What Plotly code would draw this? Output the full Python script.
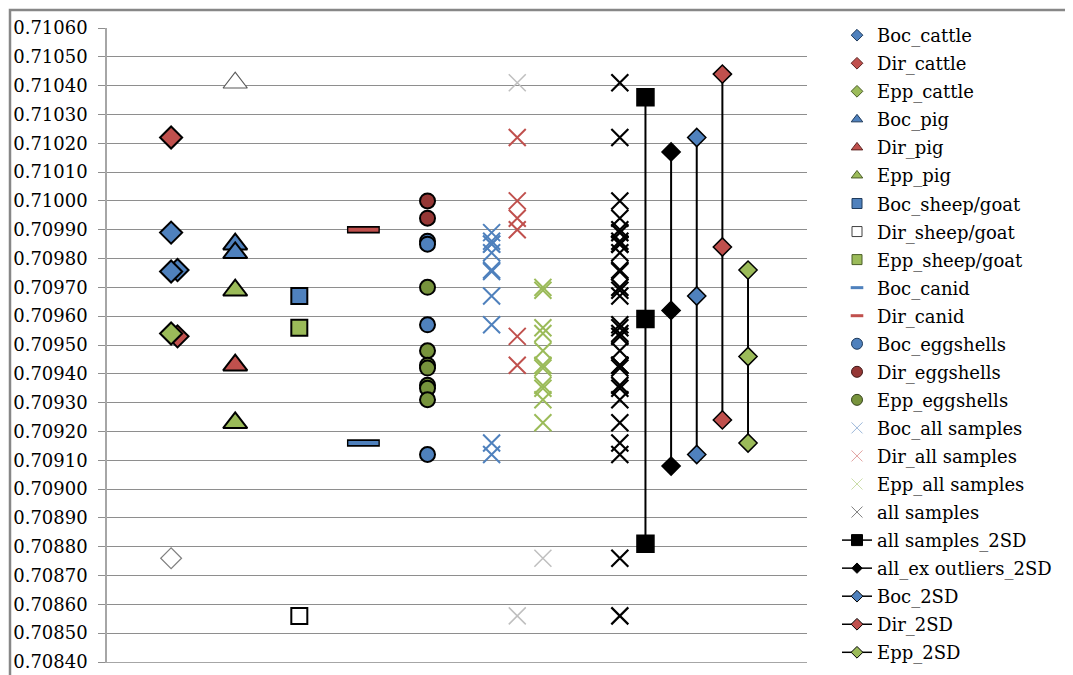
import plotly.graph_objects as go

# ---------------- data ----------------
# category positions on the (hidden) x axis
cattle_x = 1
pig_x = 2
sheep_x = 3
canid_x = 4
egg_x = 5
boc_all_x = 6
dir_all_x = 6.4
epp_all_x = 6.8
all_x = 8
all_2sd_x = 8.4
exout_2sd_x = 8.8
boc_2sd_x = 9.2
dir_2sd_x = 9.6
epp_2sd_x = 10

boc_cattle = [0.70989, 0.70976, 0.709755]
boc_cattle_pos = [1, 1.1, 1]
dir_cattle = [0.71022, 0.70953]
dir_cattle_pos = [1, 1.1]
epp_cattle = [0.70954]
epp_cattle_outlier = [0.70876]

boc_pig = [0.70985, 0.70982]
dir_pig = [0.70943]
dir_pig_outlier = [0.71041]
epp_pig = [0.70969, 0.70923]

boc_sheep = [0.70967]
dir_sheep = [0.70856]
epp_sheep = [0.70956]

boc_canid = [0.70916]
dir_canid = [0.70990]

boc_egg = [0.70986, 0.70985, 0.70957, 0.70912]
dir_egg = [0.71000, 0.70994]
epp_egg = [0.70970, 0.70948, 0.70943, 0.70942, 0.70936, 0.70935, 0.70931]

all_2sd = [0.71036, 0.70959, 0.70881]
exout_2sd = [0.71017, 0.70962, 0.70908]
boc_2sd = [0.71022, 0.70967, 0.70912]
dir_2sd = [0.71044, 0.70984, 0.70924]
epp_2sd = [0.70976, 0.70946, 0.70916]

y_ticks = [round(0.7084 + i * 0.0001, 5) for i in range(23)]

# derived groups
boc_all = boc_cattle + boc_pig + boc_sheep + boc_canid + boc_egg
dir_all = dir_cattle + dir_pig + dir_canid + dir_egg
dir_outliers = dir_pig_outlier + dir_sheep
epp_all = epp_cattle + epp_pig + epp_sheep + epp_egg
epp_outliers = epp_cattle_outlier
all_samples = boc_all + dir_all + dir_outliers + epp_all + epp_outliers

# ---------------- styles ----------------
BLUE = "#4F81BD"
RED = "#C0504D"
GREEN = "#9BBB59"
DRED = "#953735"
DGREEN = "#77933C"
GRAYX = "#BFBFBF"
FONT = "DejaVu Serif"

fig = go.Figure()

def pts(xs, ys, symbol, color, size, lw=2, lc="black", opacity=1):
    fig.add_trace(go.Scatter(
        x=xs, y=ys, mode="markers", showlegend=False, hoverinfo="y",
        marker=dict(symbol=symbol, color=color, size=size, opacity=opacity,
                    line=dict(color=lc, width=lw))))

def rep(v, n):
    return [v] * n

# legend-only entries (no data), in legend order
legend_items = [
    ("Boc_cattle", "diamond", BLUE, 9, 1, "#1F3B5C", False),
    ("Dir_cattle", "diamond", RED, 9, 1, "#5C2220", False),
    ("Epp_cattle", "diamond", GREEN, 9, 1, "#4B5E28", False),
    ("Boc_pig", "triangle-up", BLUE, 10, 1, "#1F3B5C", False),
    ("Dir_pig", "triangle-up", RED, 10, 1, "#5C2220", False),
    ("Epp_pig", "triangle-up", GREEN, 10, 1, "#4B5E28", False),
    ("Boc_sheep/goat", "square", BLUE, 10, 1, "#1F3B5C", False),
    ("Dir_sheep/goat", "square", "white", 10, 1, "#404040", False),
    ("Epp_sheep/goat", "square", GREEN, 10, 1, "#4B5E28", False),
    ("Boc_canid", "line-ew", BLUE, 9, 3, BLUE, False),
    ("Dir_canid", "line-ew", RED, 9, 3, RED, False),
    ("Boc_eggshells", "circle", BLUE, 11, 1, "#1F3B5C", False),
    ("Dir_eggshells", "circle", DRED, 11, 1, "#3F1716", False),
    ("Epp_eggshells", "circle", DGREEN, 11, 1, "#35421B", False),
    ("Boc_all samples", "x-thin", "#9DB8DA", 11, 1, "#9DB8DA", False),
    ("Dir_all samples", "x-thin", "#E2A3A1", 11, 1, "#E2A3A1", False),
    ("Epp_all samples", "x-thin", "#CBDDA9", 11, 1, "#CBDDA9", False),
    ("all samples", "x-thin", "#7F7F7F", 11, 1, "#7F7F7F", False),
    ("all samples_2SD", "square", "black", 11, 1, "black", True),
    ("all_ex outliers_2SD", "diamond", "black", 8, 1, "black", True),
    ("Boc_2SD", "diamond", BLUE, 9, 1, "black", True),
    ("Dir_2SD", "diamond", RED, 9, 1, "black", True),
    ("Epp_2SD", "diamond", GREEN, 9, 1, "black", True),
]
for i, (name, sym, col, sz, lw, lc, withline) in enumerate(legend_items):
    fig.add_trace(go.Scatter(
        x=[None], y=[None], name=name, legendgroup="g%d" % i,
        mode="lines+markers" if withline else "markers",
        line=dict(color="black", width=1.5),
        marker=dict(symbol=sym, color=col, size=sz, line=dict(color=lc, width=lw))))

# ---------- data marks ----------
# cattle
pts(boc_cattle_pos, boc_cattle, "diamond", BLUE, 17)
pts(dir_cattle_pos, dir_cattle, "diamond", RED, 17)
pts(rep(cattle_x, len(epp_cattle)), epp_cattle, "diamond", GREEN, 17)
pts(rep(cattle_x, len(epp_cattle_outlier)), epp_cattle_outlier, "diamond", "white", 16, 1.2, "#7F7F7F")
# pig
pts(rep(pig_x, len(boc_pig)), boc_pig, "triangle-up", BLUE, 21)
pts(rep(pig_x, len(dir_pig)), dir_pig, "triangle-up", RED, 21)
pts(rep(pig_x, len(epp_pig)), epp_pig, "triangle-up", GREEN, 21)
pts(rep(pig_x, len(dir_pig_outlier)), dir_pig_outlier, "triangle-up", "white", 21, 1.2, "#595959")
# sheep/goat
pts(rep(sheep_x, len(boc_sheep)), boc_sheep, "square", BLUE, 16)
pts(rep(sheep_x, len(dir_sheep)), dir_sheep, "square", "white", 16)
pts(rep(sheep_x, len(epp_sheep)), epp_sheep, "square", GREEN, 16)
# canid (outlined bars)
for vals, col in ((boc_canid, BLUE), (dir_canid, RED)):
    pts(rep(canid_x, len(vals)), vals, "line-ew", "black", 23.5, 7.5, "black")
    pts(rep(canid_x, len(vals)), vals, "line-ew", col, 21.5, 4, col)
# eggshells
pts(rep(egg_x, len(boc_egg)), boc_egg, "circle", BLUE, 15)
pts(rep(egg_x, len(dir_egg)), dir_egg, "circle", DRED, 15)
pts(rep(egg_x, len(epp_egg)), epp_egg, "circle", DGREEN, 15)
# all samples crosses
pts(rep(boc_all_x, len(boc_all)), boc_all, "x-thin", BLUE, 17, 2, BLUE)
pts(rep(dir_all_x, len(dir_all)), dir_all, "x-thin", RED, 17, 2, RED)
pts(rep(dir_all_x, len(dir_outliers)), dir_outliers, "x-thin", GRAYX, 17, 1.5, GRAYX)
pts(rep(epp_all_x, len(epp_all)), epp_all, "x-thin", GREEN, 17, 2, GREEN)
pts(rep(epp_all_x, len(epp_outliers)), epp_outliers, "x-thin", GRAYX, 17, 1.5, GRAYX)
pts(rep(all_x, len(all_samples)), all_samples, "x-thin", "black", 17, 2.2, "black")

# 2SD ranges
for xpos, vals, sym, col, sz in (
        (all_2sd_x, all_2sd, "square", "black", 17),
        (exout_2sd_x, exout_2sd, "diamond", "black", 14),
        (boc_2sd_x, boc_2sd, "diamond", BLUE, 14),
        (dir_2sd_x, dir_2sd, "diamond", RED, 14),
        (epp_2sd_x, epp_2sd, "diamond", GREEN, 14)):
    fig.add_trace(go.Scatter(
        x=rep(xpos, len(vals)), y=vals, mode="lines+markers", showlegend=False,
        hoverinfo="y", line=dict(color="black", width=2),
        marker=dict(symbol=sym, color=col, size=sz, line=dict(color="black", width=1.5))))

# ---------------- layout ----------------
# the page body adds an 8px offset, so the figure is 8px smaller than the window
OFF = 8
W, H = 1073 - OFF, 675 - OFF
L, T = 107 - OFF, 28 - OFF
R = W - (807 - OFF)
B = H - (662 - OFF)
pw, ph = W - L - R, H - T - B

fig.update_layout(
    width=W, height=H,
    margin=dict(l=L, r=R, t=T, b=B, pad=0, autoexpand=False),
    paper_bgcolor="white", plot_bgcolor="white",
    font=dict(family=FONT, size=18, color="black"),
    showlegend=True,
    legend=dict(x=(829 - L) / pw, y=1 + (T - 9) / ph, xanchor="left", yanchor="top",
                traceorder="grouped", tracegroupgap=1.65, maxheight=700,
                font=dict(family=FONT, size=18, color="black"),
                bgcolor="rgba(0,0,0,0)", itemsizing="trace"),
    xaxis=dict(range=[0, 10.92], showgrid=False, zeroline=False, showticklabels=False,
               ticks="", showline=True, linecolor="#A6A6A6", linewidth=1),
    yaxis=dict(range=[0.7084, 0.7106], tickvals=y_ticks, tickformat=".5f",
               showgrid=True, gridcolor="#8E8E8E", gridwidth=1, zeroline=False,
               showline=True, linecolor="#A6A6A6", linewidth=1.5,
               ticks="outside", ticklen=7, tickcolor="#8E8E8E",
               ticklabelstandoff=7,
               tickfont=dict(family=FONT, size=18, color="black")),
    shapes=[dict(type="rect", xref="paper", yref="paper",
                 x0=(2 - L) / pw, x1=1.6, y0=-0.3, y1=1 + (T - 2) / ph,
                 line=dict(color="#878787", width=2.5), layer="above")],
)

fig.write_html("out.html")
